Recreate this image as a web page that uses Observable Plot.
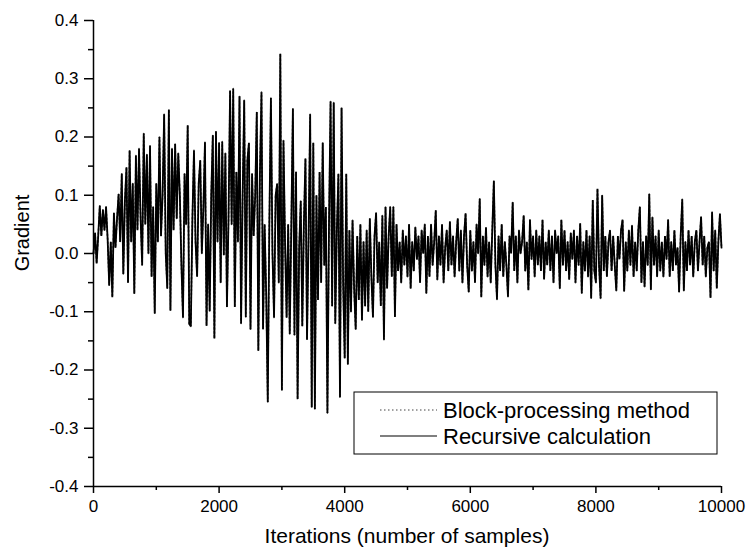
<!DOCTYPE html>
<html><head><meta charset="utf-8">
<script src="https://cdn.jsdelivr.net/npm/d3@7"></script>
<script src="https://cdn.jsdelivr.net/npm/@observablehq/plot@0.6"></script>
<style>body{margin:0;background:#fff}</style>
</head><body><div id="chart"></div>
<script>
const sampleStep = 25;
const recursiveGradient = [
  0.0, 0.035, -0.017, 0.03, 0.082, 0.03, 0.075, 0.04, 0.08, 0.025, -0.055, 0.02, -0.075, 0.07, 0.01, 0.06, 0.102, 0.02, 0.137, -0.035,
  0.09, 0.148, -0.05, 0.177, 0.02, 0.12, -0.069, 0.168, 0.04, 0.18, 0.06, -0.02, 0.206, 0.05, 0.17, 0.0, 0.185, -0.04, 0.08, -0.103,
  0.12, 0.02, 0.2, 0.03, 0.1, 0.239, 0.0, -0.06, 0.247, -0.098, 0.18, 0.04, 0.188, 0.06, 0.172, 0.1, -0.02, -0.11, 0.137, 0.05,
  0.22, -0.121, -0.125, 0.06, 0.177, 0.02, -0.04, 0.12, 0.16, 0.0, 0.08, 0.191, -0.124, 0.05, -0.099, 0.1, 0.203, -0.146, 0.21, 0.02,
  0.19, -0.05, 0.192, -0.003, 0.172, -0.092, 0.06, 0.28, 0.05, 0.283, -0.092, 0.14, 0.02, 0.27, -0.12, 0.1, 0.263, -0.109, 0.16, 0.19,
  -0.13, 0.137, 0.03, 0.1, 0.243, -0.167, 0.137, 0.277, -0.13, 0.05, -0.07, -0.255, 0.05, 0.267, 0.0, -0.11, 0.1, 0.12, -0.05, 0.343,
  -0.235, 0.194, 0.02, -0.11, 0.05, -0.138, 0.05, 0.249, -0.14, 0.14, -0.25, 0.01, 0.09, -0.125, 0.05, 0.163, -0.148, 0.03, 0.239, -0.264,
  0.19, -0.267, 0.1, -0.08, 0.14, -0.05, 0.19, -0.02, 0.08, -0.274, 0.05, 0.261, -0.09, 0.259, -0.12, 0.04, 0.137, -0.247, 0.25, -0.05,
  -0.18, 0.137, -0.19, 0.04, -0.1, 0.057, -0.06, -0.13, 0.03, -0.08, 0.05, -0.115, 0.02, -0.09, 0.04, -0.1, 0.06, -0.04, -0.11, 0.03,
  0.07, -0.05, 0.02, -0.09, 0.065, -0.148, 0.08, -0.06, 0.03, 0.08, -0.04, 0.08, -0.109, 0.05, -0.03, 0.02, -0.05, 0.04, -0.02, 0.03,
  -0.04, 0.05, -0.06, 0.02, -0.03, 0.045, -0.01, 0.03, -0.05, 0.04, 0.0, 0.05, -0.068, 0.03, -0.04, 0.05, -0.02, 0.02, 0.074, -0.045,
  0.03, -0.02, 0.05, -0.05, 0.01, 0.04, -0.03, 0.055, -0.02, 0.03, -0.04, 0.02, 0.06, -0.03, 0.04, -0.05, 0.03, 0.069, -0.02, -0.066,
  0.04, -0.03, 0.02, -0.05, 0.05, 0.0, 0.094, -0.075, 0.03, -0.02, 0.045, -0.04, 0.02, -0.05, 0.04, 0.125, -0.02, -0.079, 0.03, -0.03,
  0.05, -0.04, 0.02, -0.02, -0.074, 0.03, 0.0, 0.088, -0.03, 0.03, -0.05, 0.04, 0.0, 0.02, 0.065, -0.03, 0.02, -0.063, 0.058, -0.01,
  0.03, -0.04, 0.04, -0.02, 0.03, -0.03, 0.058, -0.044, 0.02, -0.02, 0.04, -0.03, 0.03, -0.05, 0.04, 0.0, 0.03, -0.06, 0.058, -0.02,
  0.04, -0.03, 0.02, -0.045, 0.035, -0.01, 0.04, -0.05, 0.03, -0.02, 0.052, -0.068, 0.02, -0.03, 0.04, -0.04, 0.03, -0.077, 0.092, -0.03,
  -0.05, 0.111, -0.02, -0.077, 0.1, -0.03, 0.03, -0.04, 0.02, 0.04, -0.03, 0.03, -0.02, -0.064, 0.03, -0.01, 0.04, 0.058, -0.065, 0.02,
  -0.03, 0.04, -0.02, 0.048, -0.04, 0.02, -0.03, 0.04, 0.08, -0.05, 0.02, -0.057, 0.03, -0.02, 0.102, -0.062, 0.062, -0.02, 0.03, -0.04,
  0.04, -0.03, 0.02, -0.04, 0.03, -0.01, 0.058, -0.04, 0.02, -0.03, 0.04, -0.02, 0.01, -0.066, 0.03, 0.093, -0.064, 0.02, -0.03, 0.04,
  -0.02, 0.03, -0.04, 0.02, 0.04, -0.03, 0.02, 0.063, -0.02, 0.03, -0.04, 0.01, 0.02, -0.076, 0.071, -0.03, 0.04, -0.06, 0.02, 0.068, 0.01
];
// The block-processing curve coincides with the recursive one in the picture
const blockGradient = recursiveGradient.slice();
const xTicks = [0, 2000, 4000, 6000, 8000, 10000];
const xMinorTicks = [1000, 3000, 5000, 7000, 9000];
const yTicks = [-0.4, -0.3, -0.2, -0.1, 0.0, 0.1, 0.2, 0.3, 0.4];
const yMinorTicks = [-0.35, -0.25, -0.15, -0.05, 0.05, 0.15, 0.25, 0.35];
const seriesNames = ["Block-processing method", "Recursive calculation"];
const xLabel = "Iterations (number of samples)";
const yLabel = "Gradient";

const recursiveRows = recursiveGradient.map((g, i) => ({iteration: i * sampleStep, gradient: g}));
const blockRows = blockGradient.map((g, i) => ({iteration: i * sampleStep, gradient: g}));

const FONT = "'Liberation Sans', Arial, sans-serif";
const W = 749, H = 553;
const mL = 93, mR = 28, mT = 20, mB = 67;

const chart = Plot.plot({
  width: W, height: H,
  marginLeft: mL, marginRight: mR, marginTop: mT, marginBottom: mB,
  style: {fontFamily: FONT, color: "#000", background: "#fff", overflow: "visible"},
  x: {domain: [0, 10000]},
  y: {domain: [-0.4, 0.4]},
  marks: [
    Plot.line(blockRows, {x: "iteration", y: "gradient", stroke: "#444", strokeWidth: 1.6, strokeDasharray: "1.5,2.5"}),
    Plot.line(recursiveRows, {x: "iteration", y: "gradient", stroke: "#000", strokeWidth: 1.8, strokeLinejoin: "miter"}),
    Plot.axisY(yTicks, {tickSize: 9, tickPadding: 6, fontSize: 17, tickFormat: d => d.toFixed(1), label: null, strokeWidth: 1.5}),
    Plot.axisY(yMinorTicks, {tickSize: 5, tickFormat: () => "", label: null, strokeWidth: 1.5}),
    Plot.axisX(xTicks, {tickSize: 7, tickPadding: 6, fontSize: 17, tickFormat: d => String(d), label: null, strokeWidth: 1.5}),
    Plot.axisX(xMinorTicks, {tickSize: 4, tickFormat: () => "", label: null, strokeWidth: 1.5}),
    Plot.ruleX([0], {stroke: "#000", strokeWidth: 1.5}),
    Plot.ruleY([-0.4], {stroke: "#000", strokeWidth: 1.5})
  ]
});
document.getElementById("chart").appendChild(chart);

const svg = d3.select(chart);
// axis titles
svg.append("text").attr("x", (mL + W - mR) / 2).attr("y", 543)
  .attr("text-anchor", "middle").attr("font-family", FONT).attr("font-size", 21).attr("fill", "#000").text(xLabel);
svg.append("text").attr("transform", `translate(29,233) rotate(-90)`)
  .attr("text-anchor", "middle").attr("font-family", FONT).attr("font-size", 20).attr("fill", "#000").text(yLabel);

// legend
const lg = svg.append("g");
lg.append("rect").attr("x", 354).attr("y", 392).attr("width", 363).attr("height", 62)
  .attr("fill", "#fff").attr("stroke", "#000").attr("stroke-width", 1);
const styles = [{dash: "1.5,2.5", color: "#444", w: 1.2}, {dash: null, color: "#000", w: 1.2}];
seriesNames.forEach((name, i) => {
  const cy = 410 + i * 26;
  lg.append("line").attr("x1", 380).attr("x2", 437).attr("y1", cy).attr("y2", cy)
    .attr("stroke", styles[i].color).attr("stroke-width", styles[i].w)
    .attr("stroke-dasharray", styles[i].dash);
  lg.append("text").attr("x", 443).attr("y", cy + 7.5).attr("font-family", FONT)
    .attr("text-anchor", "start")
    .attr("font-size", 22).attr("fill", "#000").text(name);
});
</script>
</body></html>
